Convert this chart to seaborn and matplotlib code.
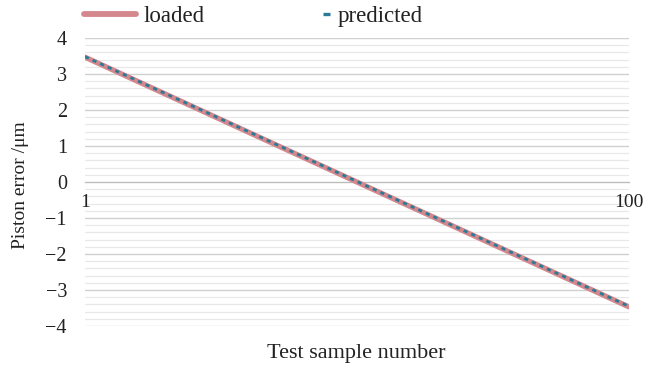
import numpy as np
import pandas as pd
import matplotlib
matplotlib.use("Agg")
import matplotlib.pyplot as plt
from matplotlib.lines import Line2D
import seaborn as sns

sample_number = list(range(1, 101))

loaded = [
    3.465, 3.395, 3.325, 3.255, 3.185, 3.115, 3.045, 2.975, 2.905, 2.835,
    2.765, 2.695, 2.625, 2.555, 2.485, 2.415, 2.345, 2.275, 2.205, 2.135,
    2.065, 1.995, 1.925, 1.855, 1.785, 1.715, 1.645, 1.575, 1.505, 1.435,
    1.365, 1.295, 1.225, 1.155, 1.085, 1.015, 0.945, 0.875, 0.805, 0.735,
    0.665, 0.595, 0.525, 0.455, 0.385, 0.315, 0.245, 0.175, 0.105, 0.035,
    -0.035, -0.105, -0.175, -0.245, -0.315, -0.385, -0.455, -0.525, -0.595, -0.665,
    -0.735, -0.805, -0.875, -0.945, -1.015, -1.085, -1.155, -1.225, -1.295, -1.365,
    -1.435, -1.505, -1.575, -1.645, -1.715, -1.785, -1.855, -1.925, -1.995, -2.065,
    -2.135, -2.205, -2.275, -2.345, -2.415, -2.485, -2.555, -2.625, -2.695, -2.765,
    -2.835, -2.905, -2.975, -3.045, -3.115, -3.185, -3.255, -3.325, -3.395, -3.465,
]

predicted = [
    3.48, 3.41, 3.34, 3.27, 3.20, 3.13, 3.06, 2.99, 2.92, 2.85,
    2.78, 2.71, 2.64, 2.57, 2.50, 2.43, 2.36, 2.29, 2.22, 2.15,
    2.08, 2.01, 1.94, 1.87, 1.80, 1.73, 1.66, 1.59, 1.52, 1.45,
    1.38, 1.31, 1.24, 1.17, 1.10, 1.03, 0.96, 0.89, 0.82, 0.75,
    0.68, 0.61, 0.54, 0.47, 0.40, 0.33, 0.26, 0.19, 0.12, 0.05,
    -0.02, -0.09, -0.16, -0.23, -0.30, -0.37, -0.44, -0.51, -0.58, -0.65,
    -0.72, -0.79, -0.86, -0.93, -1.00, -1.07, -1.14, -1.21, -1.28, -1.35,
    -1.42, -1.49, -1.56, -1.63, -1.70, -1.77, -1.84, -1.91, -1.98, -2.05,
    -2.12, -2.19, -2.26, -2.33, -2.40, -2.47, -2.54, -2.61, -2.68, -2.75,
    -2.82, -2.89, -2.96, -3.03, -3.10, -3.17, -3.24, -3.31, -3.38, -3.45,
]

y_ticks = [-4, -3, -2, -1, 0, 1, 2, 3, 4]
y_tick_labels = ["\u22124", "\u22123", "\u22122", "\u22121", "0", "1", "2", "3", "4"]
x_tick_labels = {1: "1", 100: "100"}

PINK = "#d4888d"
TEAL = "#2b7b97"
TXT = "#222222"

sns.set_theme(style="white")
plt.rcParams["font.family"] = ["Liberation Serif", "DejaVu Serif"]
plt.rcParams["ytick.major.pad"] = 13
plt.rcParams["xtick.major.pad"] = 9

df = pd.DataFrame({"sample": sample_number, "loaded": loaded, "predicted": predicted})

fig = plt.figure(figsize=(6.59, 3.68), dpi=100)
ax = fig.add_axes([0.129, 0.114, 0.825, 0.783])

# horizontal grid: light minor lines every 0.2, darker lines at integers
for v in np.arange(-4, 4.01, 0.2):
    major = abs(v - round(v)) < 1e-6
    if major and abs(v) < 1e-6:
        continue
    ax.axhline(v, color="#d0d0d0" if major else "#e8e8e8",
               lw=1.0 if major else 0.9, zorder=0)

sns.lineplot(data=df, x="sample", y="loaded", ax=ax, color=PINK,
             lw=3.8, zorder=3, solid_capstyle="round", legend=False)
sns.lineplot(data=df, x="sample", y="predicted", ax=ax, color=TEAL,
             lw=2.0, zorder=4, legend=False)
ax.lines[-1].set_linestyle((0, (1.5, 1.5)))

ax.set_xlim(1, 100)
ax.set_ylim(-4, 4)

for s in ["top", "right", "left"]:
    ax.spines[s].set_visible(False)
ax.spines["bottom"].set_position(("data", 0))
ax.spines["bottom"].set_color("#bdbdbd")
ax.spines["bottom"].set_linewidth(1.0)

xt = np.linspace(1, 100, 11)
ax.set_xticks(xt)
ax.set_xticklabels([x_tick_labels.get(int(round(t)), "") for t in xt], fontsize=14)
ax.tick_params(axis="x", direction="in", length=4, width=1.0, color="#bdbdbd",
               pad=9, labelcolor=TXT)

ax.set_yticks(y_ticks)
ax.set_yticklabels(y_tick_labels, fontsize=14.5)
ax.tick_params(axis="y", length=0, pad=13, labelcolor=TXT)

ax.set_xlabel("")
ax.set_ylabel("")
fig.text(0.031, 0.497, "Piston error /\u03bcm", rotation=90, ha="center", va="center",
         fontsize=14, color=TXT)
fig.text(0.541, 0.04, "Test sample number", ha="center", va="center",
         fontsize=16, color=TXT)

# legend entries drawn above the plot area
h_loaded = Line2D([], [], color=PINK, lw=4.2, solid_capstyle="round")
h_pred = Line2D([], [], color=TEAL, lw=2.4, solid_capstyle="butt")
leg1 = fig.legend([h_loaded], ["loaded"], loc="center left",
                  bbox_to_anchor=(0.128, 0.955), frameon=False, fontsize=16.5,
                  handlelength=2.25, handletextpad=0.35, borderpad=0, borderaxespad=0)
leg2 = fig.legend([h_pred], ["predicted"], loc="center left",
                  bbox_to_anchor=(0.490, 0.955), frameon=False, fontsize=16.5,
                  handlelength=0.3, handletextpad=0.35, borderpad=0, borderaxespad=0)
for lg in (leg1, leg2):
    for t in lg.get_texts():
        t.set_color(TXT)

fig.savefig("out.png", dpi=100)
